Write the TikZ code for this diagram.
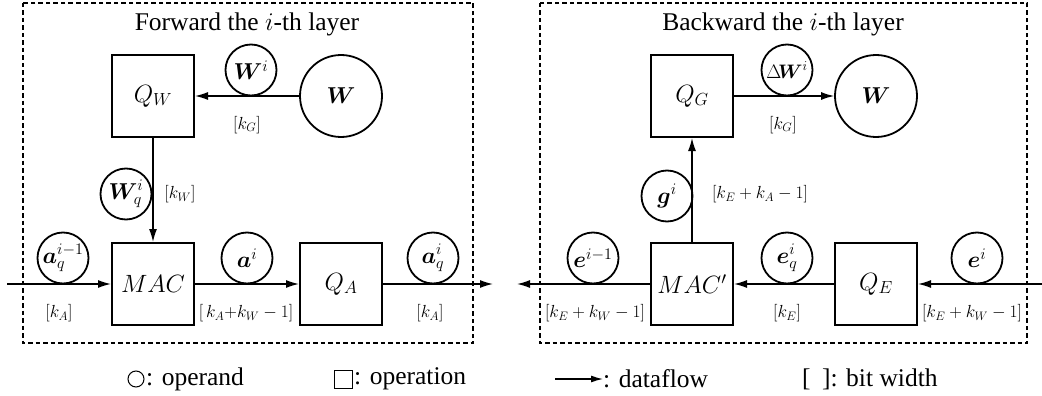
\RequirePackage{fix-cm}
\documentclass[tikz,border=0pt]{standalone}
\usepackage{amsmath,bm}
\usepackage{fontspec}
\setmainfont{Liberation Serif}
\usetikzlibrary{arrows.meta}
\begin{document}
\begin{tikzpicture}[x=1pt,y=-1pt,
 opbox/.style={draw,line width=2pt,minimum size=82pt,inner sep=0pt,font=\fontsize{25}{30}\selectfont},
 operand/.style={draw,circle,line width=1.8pt,minimum size=51pt,inner sep=0pt,font=\fontsize{23}{27}\selectfont},
 bigoperand/.style={operand,minimum size=82pt},
 bw/.style={font=\fontsize{17.5}{20}\selectfont,inner sep=0pt},
 flow/.style={line width=1.4pt,-{Latex[length=13pt,width=8pt]}},
 frame/.style={line width=1.2pt,dash pattern=on 4.5pt off 3pt},
 titletext/.style={font=\fontsize{25.5}{30}\selectfont,inner sep=0pt},
 legend/.style={font=\fontsize{25.5}{30}\selectfont,inner sep=0pt,anchor=west}]
\useasboundingbox (0,0) rectangle (1042,396);
% frames
\draw[frame] (23,3) rectangle (473,343);
\draw[frame] (540,3) rectangle (1027,343);
\node[titletext] (t1) at (247,24) {Forward the $i$-th layer};
\node[titletext] (t2) at (783,24) {Backward the $i$-th layer};
% forward
\node[opbox] (QW) at (153,96) {$Q_W$};
\node[bigoperand] (W) at (341,96) {$\bm{W}$};
\node[opbox] (MAC) at (153,284) {$MAC$};
\node[opbox] (QA) at (341,284) {$Q_A$};
\node[operand] (Wi) at (251,70) {$\bm{W}^i$};
\node[operand] (Wqi) at (126,194) {$\bm{W}_q^i$};
\node[operand] (aqim1) at (63,258) {$\bm{a}_q^{i-1}$};
\node[operand] (ai) at (247,258) {$\bm{a}^i$};
\node[operand] (aqi) at (433,258) {$\bm{a}_q^i$};
\coordinate (inA) at (7,284);
\coordinate (outA) at (493,284);
\draw[flow] (W) -- (QW);
\draw[flow] (QW) -- (MAC);
\draw[flow] (inA) -- (MAC);
\draw[flow] (MAC) -- (QA);
\draw[flow] (QA) -- (outA);
\node[bw] (lkG) at (247,125) {$[k_G]$};
\node[bw] (lkW) at (180,194) {$[k_W]$};
\node[bw] (lkA) at (59,313) {$[k_A]$};
\node[bw] (lkAW) at (246,313) {$[\,k_A{+}k_W-1]$};
\node[bw] (lkA2) at (430,313) {$[k_A]$};
% backward
\node[opbox] (QG) at (692,96) {$Q_G$};
\node[bigoperand] (Wb) at (876,96) {$\bm{W}$};
\node[opbox] (MACp) at (692,284) {$MAC'$};
\node[opbox] (QE) at (876,284) {$Q_E$};
\node[operand,font=\fontsize{19.5}{23}\selectfont] (dWi) at (787,70) {$\Delta\!\bm{W}^i$};
\node[operand] (gi) at (667,196) {$\bm{g}^i$};
\node[operand] (eim1) at (593,258) {$\bm{e}^{i-1}$};
\node[operand] (eqi) at (787,258) {$\bm{e}_q^i$};
\node[operand] (ei) at (977,258) {$\bm{e}^i$};
\coordinate (inE) at (1042,284);
\coordinate (outE) at (517,284);
\draw[flow] (QG) -- (Wb);
\draw[flow] (MACp) -- (QG);
\draw[flow] (inE) -- (QE);
\draw[flow] (QE) -- (MACp);
\draw[flow] (MACp) -- (outE);
\node[bw] (rkG) at (783,125) {$[k_G]$};
\node[bw] (rkEA) at (760,194) {$[k_E+k_A-1]$};
\node[bw] (rkEW1) at (595,313) {$[k_E+k_W-1]$};
\node[bw] (rkE) at (787,313) {$[k_E]$};
\node[bw] (rkEW2) at (972,313) {$[k_E+k_W-1]$};
% legend
\node[draw,circle,line width=1pt,minimum size=16pt,inner sep=0pt] (lc) at (136,379) {};
\node[legend] (lct) at (146,379) {: operand};
\node[draw,line width=1pt,minimum size=18pt,inner sep=0pt] (ls) at (343,379) {};
\node[legend] (lst) at (354,379) {: operation};
\coordinate (la1) at (555,379);
\coordinate (la2) at (603,379);
\draw[line width=1.3pt,-{Latex[length=12pt,width=7pt]}] (la1) -- (la2);
\node[legend] (lat) at (603,379) {: dataflow};
\node[legend] (lbt) at (802,379) {[\hspace{0.45em}]: bit width};
\end{tikzpicture}
\end{document}
